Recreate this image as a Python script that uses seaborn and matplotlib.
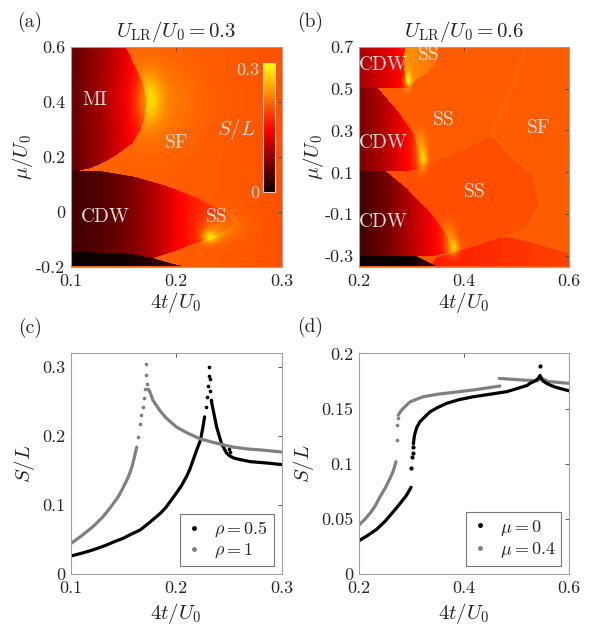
import numpy as np
import matplotlib.pyplot as plt
import seaborn as sns
from matplotlib.path import Path
from matplotlib.colors import LinearSegmentedColormap
from matplotlib.lines import Line2D

# ---------------- panel (a): U_LR/U0 = 0.3 (regions) ----------------
a_xlim = [0.1, 0.3]
a_ylim = [-0.2, 0.6]
a_bg_x = [0.1, 0.2, 0.3]
a_bg_val = [0.215, 0.212, 0.205]
a_mi_poly = [(0.1, 0.6), (0.152, 0.6), (0.161, 0.527), (0.168, 0.47), (0.172, 0.41),
             (0.170, 0.35), (0.166, 0.30), (0.158, 0.25), (0.140, 0.20), (0.125, 0.17),
             (0.115, 0.155), (0.1, 0.152)]
a_mi_x = [0.1, 0.13, 0.16, 0.172]
a_mi_val = [0.055, 0.095, 0.15, 0.17]
a_cdw_poly = [(0.1, 0.152), (0.13, 0.147), (0.16, 0.128), (0.19, 0.095), (0.22, 0.05),
              (0.245, 0.0), (0.256, -0.045), (0.245, -0.07), (0.231, -0.096), (0.215, -0.12),
              (0.195, -0.148), (0.178, -0.17), (0.15, -0.15), (0.1, -0.148)]
a_cdw_x = [0.1, 0.13, 0.16, 0.19, 0.2, 0.22, 0.25, 0.26]
a_cdw_val = [0.035, 0.048, 0.075, 0.125, 0.15, 0.175, 0.195, 0.2]
a_black_poly = [(0.1, -0.2), (0.1, -0.148), (0.15, -0.15), (0.176, -0.168), (0.2, -0.194), (0.21, -0.2)]
a_black_x = [0.1, 0.15, 0.21]
a_black_val = [0.0, 0.005, 0.04]
a_glow_x = [0.174, 0.18, 0.231, 0.235, 0.245]
a_glow_y = [0.41, 0.40, -0.09, -0.07, -0.05]
a_glow_amp = [0.06, 0.02, 0.08, 0.03, 0.02]
a_glow_rx = [0.012, 0.04, 0.007, 0.012, 0.02]
a_glow_ry = [0.09, 0.15, 0.02, 0.04, 0.05]

# ---------------- panel (b): U_LR/U0 = 0.6 ----------------
b_xlim = [0.2, 0.6]
b_ylim = [-0.35, 0.7]
b_bg_x = [0.2, 0.45, 0.6]
b_bg_val = [0.21, 0.21, 0.212]
b_lowss_poly = [(0.25, 0.108), (0.31, 0.112), (0.326, 0.135), (0.35, 0.16), (0.38, 0.19),
                (0.41, 0.22), (0.449, 0.27), (0.47, 0.24), (0.487, 0.183), (0.532, 0.088),
                (0.544, -0.056), (0.519, -0.167), (0.474, -0.205), (0.43, -0.245),
                (0.384, -0.278), (0.3, -0.3)]
b_lowss_x = [0.3, 0.6]
b_lowss_val = [0.202, 0.202]
b_red_poly = [(0.335, -0.35), (0.345, -0.31), (0.384, -0.278), (0.43, -0.245), (0.474, -0.205),
              (0.52, -0.23), (0.6, -0.29), (0.6, -0.35)]
b_red_x = [0.34, 0.45, 0.6]
b_red_val = [0.17, 0.18, 0.195]
b_topss_poly = [(0.285, 0.7), (0.35, 0.7), (0.345, 0.62), (0.33, 0.58), (0.31, 0.55),
                (0.295, 0.515), (0.29, 0.53), (0.285, 0.6)]
b_topss_x = [0.29, 0.35]
b_topss_val = [0.245, 0.222]
b_top_poly = [(0.2, 0.7), (0.287, 0.7), (0.284, 0.62), (0.288, 0.56), (0.292, 0.52),
              (0.295, 0.505), (0.2, 0.505)]
b_top_x = [0.2, 0.26, 0.29]
b_top_val = [0.1, 0.14, 0.17]
b_mid_poly = [(0.2, 0.505), (0.235, 0.505), (0.272, 0.398), (0.303, 0.287), (0.316, 0.19),
              (0.322, 0.143), (0.326, 0.13), (0.31, 0.115), (0.29, 0.108), (0.2, 0.108)]
b_mid_x = [0.2, 0.25, 0.29, 0.32]
b_mid_val = [0.07, 0.11, 0.155, 0.19]
b_bot_poly = [(0.2, 0.108), (0.25, 0.108), (0.29, 0.024), (0.334, -0.088), (0.366, -0.2),
              (0.38, -0.262), (0.384, -0.275), (0.36, -0.29), (0.335, -0.302), (0.2, -0.302)]
b_bot_x = [0.2, 0.25, 0.3, 0.34, 0.37, 0.385]
b_bot_val = [0.035, 0.065, 0.11, 0.15, 0.175, 0.2]
b_black_poly = [(0.2, -0.35), (0.2, -0.302), (0.31, -0.302), (0.325, -0.32), (0.348, -0.35)]
b_black_x = [0.2, 0.3, 0.35]
b_black_val = [0.0, 0.005, 0.05]
b_ridge = [(0.515, 0.7), (0.49, 0.5), (0.46, 0.33), (0.452, 0.29)]
b_arc = [(0.452, 0.28), (0.47, 0.24), (0.487, 0.183), (0.532, 0.088), (0.544, -0.056),
         (0.519, -0.167), (0.468, -0.215)]
b_glow_x = [0.291, 0.32, 0.315, 0.378, 0.37]
b_glow_y = [0.54, 0.16, 0.23, -0.26, -0.2]
b_glow_amp = [0.08, 0.07, 0.04, 0.08, 0.035]
b_glow_rx = [0.007, 0.009, 0.012, 0.011, 0.014]
b_glow_ry = [0.04, 0.05, 0.07, 0.04, 0.06]

# ---------------- panel (c): S/L vs 4t/U0 ----------------
rho05_left_x = [0.100, 0.110, 0.117, 0.125, 0.134, 0.140, 0.150, 0.155, 0.166, 0.175, 0.185,
                0.190, 0.200, 0.205, 0.210, 0.213, 0.216, 0.219, 0.223, 0.225, 0.227]
rho05_left_y = [0.026, 0.030, 0.033, 0.037, 0.042, 0.046, 0.052, 0.056, 0.064, 0.075, 0.088,
                0.096, 0.117, 0.128, 0.142, 0.152, 0.165, 0.178, 0.194, 0.210, 0.228]
rho05_dot_x = [0.2285, 0.2295, 0.2302, 0.2308, 0.2311, 0.2316, 0.2322, 0.2330, 0.2505, 0.2515]
rho05_dot_y = [0.242, 0.257, 0.272, 0.287, 0.300, 0.283, 0.266, 0.252, 0.181, 0.177]
rho05_right_x = [0.2335, 0.2352, 0.2384, 0.2430, 0.2479, 0.2510, 0.2550, 0.2605, 0.2700,
                 0.2858, 0.300]
rho05_right_y = [0.250, 0.237, 0.213, 0.189, 0.175, 0.171, 0.168, 0.166, 0.163, 0.161, 0.1587]
rho1_left_x = [0.100, 0.110, 0.121, 0.130, 0.137, 0.145, 0.150, 0.155, 0.158, 0.160, 0.1626]
rho1_left_y = [0.044, 0.055, 0.0685, 0.082, 0.095, 0.112, 0.126, 0.142, 0.155, 0.167, 0.184]
rho1_dot_x = [0.1640, 0.1657, 0.1670, 0.1682, 0.1692, 0.1700, 0.1710, 0.1716, 0.1724]
rho1_dot_y = [0.198, 0.218, 0.230, 0.242, 0.255, 0.268, 0.305, 0.288, 0.276]
rho1_right_x = [0.1735, 0.1752, 0.178, 0.1846, 0.190, 0.2005, 0.210, 0.2226, 0.240, 0.2542,
                0.270, 0.2800, 0.300]
rho1_right_y = [0.268, 0.2638, 0.252, 0.237, 0.227, 0.213, 0.205, 0.196, 0.189, 0.184,
                0.181, 0.180, 0.177]

# ---------------- panel (d) ----------------
mu0_left_x = [0.200, 0.215, 0.2336, 0.250, 0.2653, 0.280, 0.2907, 0.299]
mu0_left_y = [0.0302, 0.0345, 0.0405, 0.048, 0.0565, 0.065, 0.0716, 0.0786]
mu0_dot_x = [0.2990, 0.3010, 0.3020, 0.3030, 0.5443, 0.5450]
mu0_dot_y = [0.0958, 0.1063, 0.110, 0.115, 0.1885, 0.179]
mu0_mid_x = [0.3035, 0.305, 0.3065, 0.310, 0.316, 0.320, 0.335, 0.350, 0.3668, 0.390, 0.4174,
             0.450, 0.481, 0.500, 0.520, 0.5252, 0.535, 0.541, 0.5445]
mu0_mid_y = [0.118, 0.124, 0.1275, 0.133, 0.138, 0.140, 0.147, 0.151, 0.1547, 0.158, 0.1607,
             0.163, 0.1653, 0.168, 0.171, 0.1728, 0.175, 0.1773, 0.180]
mu0_right_x = [0.5455, 0.550, 0.557, 0.565, 0.576, 0.600]
mu0_right_y = [0.178, 0.175, 0.1728, 0.171, 0.169, 0.166]
mu04_left_x = [0.200, 0.210, 0.2209, 0.230, 0.240, 0.250, 0.259, 0.265, 0.2704]
mu04_left_y = [0.0444, 0.049, 0.055, 0.061, 0.070, 0.078, 0.0867, 0.093, 0.1018]
mu04_dot_x = [0.2715, 0.2725, 0.2735]
mu04_dot_y = [0.1214, 0.135, 0.141]
mu04_mid_x = [0.2745, 0.278, 0.2811, 0.288, 0.297, 0.310, 0.3223, 0.350, 0.3858, 0.420, 0.468]
mu04_mid_y = [0.144, 0.1465, 0.1486, 0.152, 0.156, 0.1585, 0.1607, 0.163, 0.165, 0.167, 0.1704]
mu04_right_x = [0.467, 0.5125, 0.541, 0.545, 0.560, 0.600]
mu04_right_y = [0.1773, 0.1758, 0.1752, 0.178, 0.1745, 0.1728]

GRAY = '#808080'
LIGHT = '#e4e0e0'

sns.set_style('white')
plt.rcParams['font.family'] = ['cmr10']
plt.rcParams['mathtext.fontset'] = 'cm'
plt.rcParams['axes.unicode_minus'] = False
plt.rcParams['axes.formatter.use_mathtext'] = True


def band(line, half):
    left = [(x - half, y) for x, y in line]
    right = [(x + half, y) for x, y in line][::-1]
    return left + right


def build_map(xlim, ylim, nx, ny, bg, layers, bands, glows, last):
    xs = np.linspace(xlim[0], xlim[1], nx)
    ys = np.linspace(ylim[0], ylim[1], ny)
    X, Y = np.meshgrid(xs, ys)
    pts = np.column_stack([X.ravel(), Y.ravel()])
    Z = np.interp(X, bg[0], bg[1])
    for poly, px, pv in layers:
        m = Path(poly + [poly[0]]).contains_points(pts).reshape(X.shape)
        Z[m] = np.interp(X, px, pv)[m]
    for poly, val in bands:
        m = Path(poly + [poly[0]]).contains_points(pts).reshape(X.shape)
        Z[m] = val
    for gx, gy, ga, grx, gry in zip(*glows):
        Z += ga * np.exp(-((X - gx) / grx) ** 2 - ((Y - gy) / gry) ** 2)
    for poly, px, pv in last:
        m = Path(poly + [poly[0]]).contains_points(pts).reshape(X.shape)
        Z[m] = np.interp(X, px, pv)[m]
    return Z


hot = plt.get_cmap('hot')
cmap = LinearSegmentedColormap.from_list('hot75', hot(np.linspace(0, 0.75, 256)))
VMAX = 0.315

fig = plt.figure(figsize=(5.89, 6.25), dpi=100)
ax_a = fig.add_axes([0.120, 0.5733, 0.3582, 0.352])
ax_b = fig.add_axes([0.6095, 0.5733, 0.357, 0.352])
ax_c = fig.add_axes([0.120, 0.0816, 0.3582, 0.353])
ax_d = fig.add_axes([0.6095, 0.0816, 0.357, 0.353])

Za = build_map(a_xlim, a_ylim, 210, 220, (a_bg_x, a_bg_val),
               [(a_mi_poly, a_mi_x, a_mi_val), (a_cdw_poly, a_cdw_x, a_cdw_val)],
               [], (a_glow_x, a_glow_y, a_glow_amp, a_glow_rx, a_glow_ry),
               [(a_black_poly, a_black_x, a_black_val)])
Zb = build_map(b_xlim, b_ylim, 210, 220, (b_bg_x, b_bg_val),
               [(b_lowss_poly, b_lowss_x, b_lowss_val), (b_red_poly, b_red_x, b_red_val),
                (b_topss_poly, b_topss_x, b_topss_val), (b_top_poly, b_top_x, b_top_val),
                (b_mid_poly, b_mid_x, b_mid_val), (b_bot_poly, b_bot_x, b_bot_val)],
               [(band(b_ridge, 0.0022), 0.218), (band(b_arc, 0.0022), 0.218)],
               (b_glow_x, b_glow_y, b_glow_amp, b_glow_rx, b_glow_ry),
               [(b_black_poly, b_black_x, b_black_val)])

im = ax_a.imshow(Za, origin='lower', extent=a_xlim + a_ylim, aspect='auto', cmap=cmap,
                 vmin=0, vmax=VMAX, interpolation='bilinear')
ax_b.imshow(Zb, origin='lower', extent=b_xlim + b_ylim, aspect='auto', cmap=cmap,
            vmin=0, vmax=VMAX, interpolation='bilinear')

ax_a.set_xlim(a_xlim)
ax_a.set_ylim(a_ylim)
ax_a.set_xticks([0.1, 0.2, 0.3], ['0.1', '0.2', '0.3'])
ax_a.set_yticks([-0.2, 0, 0.2, 0.4, 0.6], ['-0.2', '0', '0.2', '0.4', '0.6'])
ax_b.set_xlim(b_xlim)
ax_b.set_ylim(b_ylim)
ax_b.set_xticks([0.2, 0.4, 0.6], ['0.2', '0.4', '0.6'])
ax_b.set_yticks([-0.3, -0.1, 0.1, 0.3, 0.5, 0.7], ['-0.3', '-0.1', '0.1', '0.3', '0.5', '0.7'])

for ax, txt in [(ax_a, '0.3'), (ax_b, '0.6')]:
    ax.text(0.5, 1.067, r'$U_{\rm LR}/U_0 = %s$' % txt, transform=ax.transAxes,
            ha='center', va='center', fontsize=15)
    ax.set_xlabel(r'$4t/U_0$', fontsize=15)
    ax.set_ylabel(r'$\mu/U_0$', fontsize=15)

# region labels
for ax, items in [(ax_a, [('MI', 0.123, 0.406), ('SF', 0.2005, 0.249), ('CDW', 0.1325, -0.018),
                          ('SS', 0.238, -0.018)]),
                  (ax_b, [('CDW', 0.2464, 0.6126), ('SS', 0.3318, 0.660), ('SS', 0.3604, 0.35),
                          ('CDW', 0.2464, 0.239), ('SF', 0.541, 0.3105), ('SS', 0.4206, 0.0079),
                          ('CDW', 0.2464, -0.135)])]:
    for t, x, y in items:
        ax.text(x, y, t, color=LIGHT, fontsize=14, ha='center', va='center')
ax_a.text(0.2573, 0.30, r'$S/L$', color=LIGHT, fontsize=15, ha='center', va='center')

cax = fig.add_axes([0.447, 0.6923, 0.0199, 0.2074])
cb = fig.colorbar(im, cax=cax, ticks=[0, 0.3])
cb.ax.yaxis.set_ticks_position('left')
cb.ax.set_yticklabels(['0', '0.3'])
cb.ax.tick_params(length=0, labelsize=13, labelcolor=LIGHT, pad=3)
cb.outline.set_edgecolor('#f0c8c0')
cb.outline.set_linewidth(0.8)

# line panels
sns.lineplot(x=rho05_left_x, y=rho05_left_y, color='k', linewidth=2.3, ax=ax_c, estimator=None, sort=False)
sns.lineplot(x=rho05_right_x, y=rho05_right_y, color='k', linewidth=2.3, ax=ax_c, estimator=None, sort=False)
sns.scatterplot(x=rho05_dot_x, y=rho05_dot_y, color='k', s=7, linewidth=0, ax=ax_c)
sns.lineplot(x=rho1_left_x, y=rho1_left_y, color=GRAY, linewidth=2.3, ax=ax_c, estimator=None, sort=False)
sns.lineplot(x=rho1_right_x, y=rho1_right_y, color=GRAY, linewidth=2.3, ax=ax_c, estimator=None, sort=False)
sns.scatterplot(x=rho1_dot_x, y=rho1_dot_y, color=GRAY, s=7, linewidth=0, ax=ax_c)

sns.lineplot(x=mu04_left_x, y=mu04_left_y, color=GRAY, linewidth=2.3, ax=ax_d, estimator=None, sort=False)
sns.lineplot(x=mu04_mid_x, y=mu04_mid_y, color=GRAY, linewidth=2.3, ax=ax_d, estimator=None, sort=False)
sns.lineplot(x=mu04_right_x, y=mu04_right_y, color=GRAY, linewidth=2.3, ax=ax_d, estimator=None, sort=False)
sns.scatterplot(x=mu04_dot_x, y=mu04_dot_y, color=GRAY, s=7, linewidth=0, ax=ax_d)
sns.lineplot(x=mu0_left_x, y=mu0_left_y, color='k', linewidth=2.3, ax=ax_d, estimator=None, sort=False)
sns.lineplot(x=mu0_mid_x, y=mu0_mid_y, color='k', linewidth=2.3, ax=ax_d, estimator=None, sort=False)
sns.lineplot(x=mu0_right_x, y=mu0_right_y, color='k', linewidth=2.3, ax=ax_d, estimator=None, sort=False)
sns.scatterplot(x=mu0_dot_x, y=mu0_dot_y, color='k', s=9, linewidth=0, ax=ax_d)

ax_c.set_xlim(0.1, 0.3)
ax_c.set_ylim(0, 0.32)
ax_c.set_xticks([0.1, 0.2, 0.3], ['0.1', '0.2', '0.3'])
ax_c.set_yticks([0, 0.1, 0.2, 0.3], ['0', '0.1', '0.2', '0.3'])
ax_d.set_xlim(0.2, 0.6)
ax_d.set_ylim(0, 0.2)
ax_d.set_xticks([0.2, 0.4, 0.6], ['0.2', '0.4', '0.6'])
ax_d.set_yticks([0, 0.05, 0.1, 0.15, 0.2], ['0', '0.05', '0.1', '0.15', '0.2'])
for ax in (ax_c, ax_d):
    ax.set_xlabel(r'$4t/U_0$', fontsize=15)
    ax.set_ylabel(r'$S/L$', fontsize=15)

for ax, labels in [(ax_c, [r'$\rho = 0.5$', r'$\rho = 1$']), (ax_d, [r'$\mu = 0$', r'$\mu = 0.4$'])]:
    handles = [Line2D([], [], marker='.', linestyle='none', color='k', markersize=5),
               Line2D([], [], marker='.', linestyle='none', color=GRAY, markersize=5)]
    leg = ax.legend(handles, labels, loc='lower right', fontsize=13, frameon=True, fancybox=False,
                    framealpha=1, edgecolor='#7a7a7a', borderaxespad=0.45, handlelength=1.0,
                    handletextpad=0.6, borderpad=0.3, labelspacing=0.15)
    leg.get_frame().set_linewidth(0.8)

# axes styling
label_pos = {ax_a: (-0.226, -0.165), ax_b: (-0.217, -0.165), ax_c: (-0.217, -0.177), ax_d: (-0.266, -0.177)}
for ax in (ax_a, ax_b, ax_c, ax_d):
    for s in ax.spines.values():
        s.set_visible(True)
        s.set_color('#a0a0a0')
        s.set_linewidth(0.8)
    ax.tick_params(direction='in', length=3, width=0.6, color='#404040', labelsize=13,
                   top=True, right=True, pad=4)
    ax.tick_params(axis='x', pad=5)
    yx, xy = label_pos[ax]
    ax.yaxis.set_label_coords(yx, 0.5)
    ax.xaxis.set_label_coords(0.5, xy)
    ax.xaxis.label.set_va('center')
    ax.yaxis.label.set_va('center')

for t, x, y in [('(a)', 0.051, 0.965), ('(b)', 0.526, 0.965), ('(c)', 0.051, 0.475), ('(d)', 0.526, 0.477)]:
    fig.text(x, y, t, fontsize=14, ha='center', va='center')

fig.savefig('out.png', dpi=100)
